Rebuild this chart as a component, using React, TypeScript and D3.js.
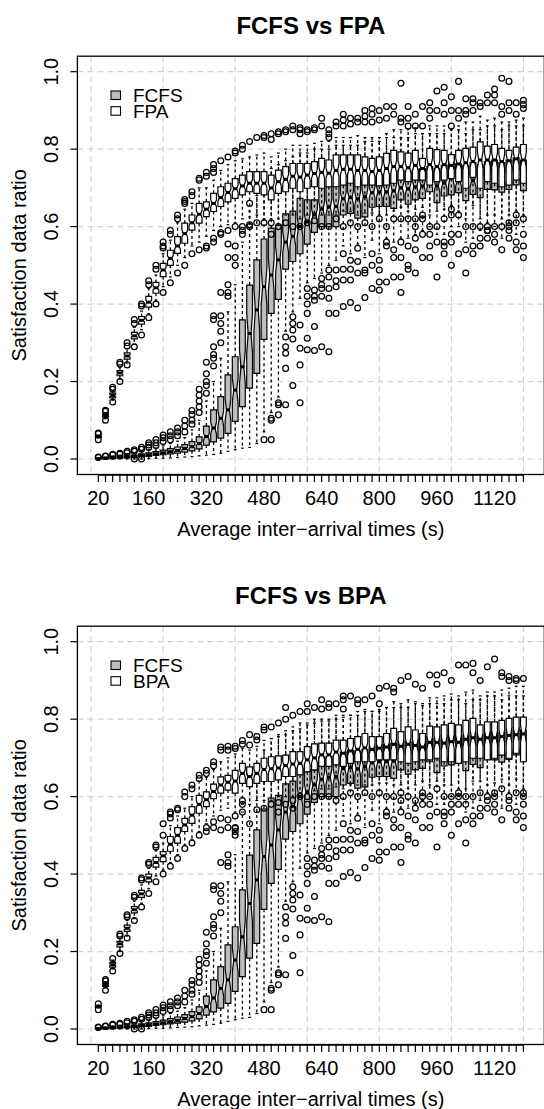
import React from 'react';
import * as d3 from 'd3';

// ---------- categories / ticks ----------
const categories = [20,40,60,80,100,120,140,160,180,200,220,240,260,280,300,320,340,360,380,400,
  420,440,460,480,500,520,540,560,580,600,620,640,660,680,700,720,740,760,780,800,
  820,840,860,880,900,920,940,960,980,1000,1020,1040,1060,1080,1100,1120,1140,1160,1180,1200];
const tickLabels = [20,160,320,480,640,800,960,1120];
const yTicks = [0,0.2,0.4,0.6,0.8,1.0];

// ---------- FCFS (same in both panels) ----------
const fcfsLo = [0.000,0.000,0.000,0.000,0.000,0.000,0.000,0.001,0.002,0.002,0.003,0.004,0.005,0.006,0.008,0.010,0.012,0.015,0.020,0.024,
  0.028,0.030,0.040,0.070,0.120,0.160,0.330,0.380,0.415,0.455,0.466,0.480,0.500,0.513,0.550,0.530,0.555,0.520,0.565,0.530,
  0.570,0.560,0.570,0.570,0.580,0.590,0.600,0.580,0.580,0.600,0.600,0.560,0.570,0.590,0.610,0.600,0.570,0.610,0.580,0.600];
const fcfsQ1 = [0.000,0.000,0.001,0.002,0.003,0.004,0.006,0.007,0.009,0.011,0.013,0.015,0.018,0.021,0.026,0.036,0.044,0.054,0.066,0.097,
  0.135,0.183,0.221,0.309,0.376,0.412,0.490,0.510,0.530,0.555,0.585,0.600,0.600,0.600,0.630,0.634,0.622,0.625,0.650,0.652,
  0.652,0.647,0.669,0.658,0.669,0.673,0.690,0.662,0.679,0.682,0.688,0.667,0.683,0.675,0.696,0.695,0.689,0.696,0.708,0.693];
const fcfsMed = [0.001,0.002,0.003,0.004,0.005,0.007,0.009,0.011,0.013,0.016,0.019,0.022,0.027,0.032,0.040,0.058,0.080,0.105,0.127,0.178,
  0.238,0.324,0.385,0.445,0.475,0.514,0.560,0.575,0.600,0.612,0.630,0.645,0.650,0.652,0.672,0.675,0.672,0.678,0.688,0.690,
  0.690,0.692,0.700,0.698,0.703,0.705,0.712,0.705,0.712,0.725,0.718,0.712,0.718,0.715,0.725,0.728,0.722,0.728,0.735,0.728];
const fcfsQ3 = [0.002,0.003,0.005,0.006,0.008,0.010,0.013,0.016,0.019,0.023,0.027,0.031,0.037,0.045,0.057,0.085,0.127,0.161,0.217,0.264,
  0.359,0.449,0.514,0.568,0.596,0.603,0.633,0.640,0.673,0.669,0.669,0.703,0.703,0.705,0.715,0.720,0.718,0.722,0.730,0.735,
  0.735,0.738,0.745,0.742,0.748,0.750,0.755,0.750,0.758,0.785,0.762,0.758,0.765,0.760,0.768,0.772,0.765,0.772,0.778,0.772];
const fcfsHi = [0.003,0.005,0.008,0.010,0.013,0.016,0.020,0.024,0.028,0.034,0.040,0.046,0.055,0.075,0.100,0.150,0.200,0.260,0.380,0.450,
  0.560,0.640,0.680,0.720,0.750,0.760,0.770,0.780,0.790,0.790,0.800,0.800,0.800,0.810,0.810,0.810,0.810,0.820,0.820,0.820,
  0.830,0.830,0.830,0.830,0.840,0.840,0.840,0.840,0.840,0.850,0.850,0.840,0.850,0.850,0.860,0.860,0.850,0.860,0.860,0.860];
const fcfsOut = [
  [0.004,0.005],[0.007,0.008],[0.010,0.012],[0.012,0.015],[0.016,0.020],
  [0.020,0.024,0.000],[0.025,0.030,0.000],[0.030,0.036,0.042],[0.035,0.042,0.050],[0.045,0.055,0.062],
  [0.050,0.060,0.070],[0.060,0.070,0.080],[0.070,0.085,0.100],[0.090,0.100,0.115,0.125],[0.120,0.135,0.150,0.165,0.180],
  [0.170,0.190,0.200,0.220,0.250],[0.240,0.260,0.270,0.290,0.360,0.370],[0.300,0.330,0.350,0.370,0.430],[0.420,0.430,0.450,0.520],[0.500,0.520,0.550],
  [0.580,0.590],[0.660],[],[0.050],[0.050,0.100,0.105],
  [0.114,0.140,0.145],[0.140,0.234,0.273,0.290,0.315],[0.190,0.310,0.333,0.350,0.367],[0.145,0.243,0.286,0.346],[0.282,0.312,0.376,0.400,0.420,0.440],
  [0.280,0.342,0.410,0.420,0.436],[0.290,0.420,0.440,0.450,0.466],[0.277,0.376,0.415,0.440,0.470,0.488],[0.376,0.445,0.460,0.488],[0.394,0.462,0.490,0.530],
  [0.404,0.462,0.490,0.513],[0.390,0.480,0.510,0.544],[0.417,0.480,0.488],[0.440,0.500,0.530],[0.436,0.457,0.488,0.513],
  [0.457,0.550,0.560],[0.470,0.520,0.540],[0.430,0.470,0.520,0.560],[0.490,0.500,0.550],[0.480,0.540,0.570],
  [0.520,0.580],[0.520,0.550,0.580],[0.470,0.560],[0.530,0.550,0.560],[0.500,0.560,0.580],
  [0.530,0.580],[0.480,0.540],[0.530,0.550],[0.550,0.570],[0.570,0.590],
  [0.560,0.580],[0.540],[0.570,0.590],[0.540,0.560],[0.520,0.550,0.580]
];

// ---------- FPA ----------
const fpaLo = [0.054,0.104,0.152,0.206,0.248,0.296,0.334,0.375,0.410,0.445,0.470,0.500,0.520,0.550,0.560,0.575,0.590,0.600,0.605,0.610,
  0.620,0.625,0.630,0.620,0.620,0.620,0.630,0.630,0.620,0.630,0.635,0.630,0.630,0.630,0.640,0.640,0.630,0.635,0.635,0.630,
  0.630,0.640,0.650,0.640,0.645,0.650,0.630,0.640,0.645,0.655,0.640,0.620,0.655,0.620,0.630,0.630,0.620,0.630,0.640,0.630];
const fpaQ1 = [0.056,0.108,0.158,0.215,0.258,0.310,0.348,0.392,0.428,0.471,0.500,0.531,0.557,0.591,0.609,0.626,0.639,0.652,0.664,0.673,
  0.682,0.690,0.686,0.682,0.669,0.686,0.690,0.699,0.690,0.699,0.703,0.699,0.703,0.703,0.707,0.712,0.703,0.707,0.707,0.705,
  0.707,0.712,0.720,0.716,0.720,0.720,0.707,0.716,0.720,0.724,0.716,0.699,0.727,0.699,0.716,0.712,0.703,0.707,0.720,0.712];
const fpaMed = [0.058,0.112,0.164,0.222,0.266,0.318,0.358,0.405,0.442,0.488,0.518,0.550,0.582,0.610,0.632,0.645,0.660,0.675,0.688,0.698,
  0.705,0.712,0.712,0.712,0.700,0.716,0.722,0.730,0.728,0.733,0.737,0.740,0.738,0.745,0.748,0.748,0.745,0.745,0.742,0.745,
  0.750,0.755,0.755,0.752,0.758,0.750,0.760,0.755,0.760,0.758,0.762,0.765,0.768,0.772,0.772,0.772,0.768,0.770,0.775,0.772];
const fpaQ3 = [0.060,0.116,0.170,0.228,0.274,0.327,0.368,0.420,0.456,0.505,0.539,0.574,0.609,0.630,0.660,0.664,0.686,0.703,0.712,0.724,
  0.733,0.742,0.742,0.742,0.733,0.746,0.755,0.763,0.763,0.763,0.768,0.776,0.772,0.785,0.785,0.785,0.785,0.780,0.776,0.780,
  0.789,0.797,0.793,0.790,0.797,0.776,0.802,0.799,0.797,0.786,0.797,0.802,0.805,0.819,0.808,0.812,0.802,0.797,0.805,0.812];
const fpaHi = [0.062,0.120,0.176,0.236,0.285,0.340,0.382,0.440,0.475,0.530,0.565,0.610,0.645,0.660,0.700,0.700,0.720,0.745,0.760,0.770,
  0.775,0.780,0.785,0.790,0.780,0.790,0.800,0.810,0.810,0.810,0.815,0.820,0.820,0.830,0.830,0.830,0.835,0.830,0.830,0.830,
  0.840,0.850,0.850,0.850,0.855,0.840,0.860,0.860,0.860,0.850,0.860,0.870,0.870,0.885,0.875,0.880,0.870,0.870,0.875,0.880];
const fpaOut = [
  [0.050,0.065,0.067],[0.100,0.123,0.126],[0.147,0.180,0.185],[0.200,0.245,0.250],[0.243,0.292,0.300],
  [0.290,0.350,0.360],[0.320,0.395,0.400],[0.365,0.450,0.460],[0.400,0.490,0.500],[0.430,0.545,0.550,0.560],
  [0.455,0.580,0.590],[0.480,0.620,0.630],[0.500,0.660,0.665,0.670],[0.530,0.680,0.690],[0.540,0.720,0.725],
  [0.545,0.550,0.730,0.740],[0.560,0.570,0.740,0.750,0.760],[0.580,0.585,0.770],[0.555,0.590,0.780],[0.600,0.790,0.795],
  [0.600,0.800,0.810],[0.600,0.605,0.820],[0.610,0.830],[0.610,0.830,0.835],[0.580,0.610,0.825,0.840],
  [0.600,0.840,0.845],[0.610,0.845,0.850],[0.600,0.850,0.860],[0.600,0.840,0.850,0.855],[0.610,0.845,0.850],
  [0.615,0.850,0.855],[0.600,0.860,0.880],[0.600,0.830,0.840,0.850],[0.620,0.860,0.870],[0.600,0.860,0.875,0.890],
  [0.610,0.865,0.880],[0.600,0.870,0.880],[0.610,0.870,0.885,0.900],[0.600,0.870,0.890,0.905],[0.620,0.875,0.900],
  [0.600,0.880,0.910],[0.620,0.890,0.910],[0.620,0.870,0.880,0.970],[0.620,0.860,0.880,0.910],[0.600,0.620,0.860,0.890],
  [0.620,0.630,0.860,0.910],[0.600,0.880,0.900,0.920],[0.600,0.900,0.950],[0.620,0.890,0.920,0.960],[0.630,0.645,0.860,0.900,0.935],
  [0.630,0.880,0.900,0.975],[0.600,0.890,0.900,0.930],[0.600,0.900,0.920,0.930],[0.600,0.910,0.920],[0.590,0.600,0.920,0.940],
  [0.600,0.920,0.940,0.955],[0.600,0.890,0.910,0.983],[0.600,0.610,0.900,0.920,0.975],[0.610,0.630,0.890,0.920],[0.620,0.905,0.915,0.926]
];

// ---------- BPA ----------
const bpaLo = [0.054,0.106,0.155,0.200,0.240,0.285,0.325,0.362,0.395,0.410,0.430,0.450,0.475,0.490,0.510,0.530,0.550,0.565,0.570,0.560,
  0.580,0.580,0.590,0.590,0.590,0.600,0.600,0.600,0.610,0.610,0.615,0.620,0.620,0.625,0.620,0.630,0.630,0.630,0.630,0.635,
  0.635,0.630,0.630,0.620,0.630,0.640,0.630,0.640,0.630,0.630,0.620,0.620,0.640,0.640,0.630,0.635,0.645,0.630,0.645,0.620];
const bpaQ1 = [0.056,0.110,0.160,0.212,0.252,0.300,0.340,0.380,0.418,0.432,0.459,0.480,0.510,0.531,0.557,0.574,0.595,0.609,0.617,0.609,
  0.634,0.626,0.634,0.639,0.639,0.643,0.652,0.652,0.656,0.664,0.669,0.678,0.678,0.682,0.678,0.686,0.690,0.690,0.690,0.695,
  0.695,0.695,0.690,0.686,0.690,0.695,0.695,0.699,0.690,0.690,0.686,0.690,0.699,0.699,0.695,0.699,0.707,0.699,0.712,0.690];
const bpaMed = [0.058,0.114,0.166,0.220,0.260,0.308,0.349,0.390,0.430,0.447,0.477,0.500,0.527,0.552,0.580,0.592,0.613,0.630,0.637,0.640,
  0.660,0.652,0.660,0.670,0.672,0.674,0.680,0.684,0.686,0.695,0.700,0.708,0.708,0.715,0.712,0.718,0.722,0.726,0.722,0.725,
  0.728,0.735,0.730,0.735,0.732,0.728,0.740,0.740,0.738,0.742,0.740,0.748,0.752,0.748,0.752,0.752,0.755,0.758,0.760,0.762];
const bpaQ3 = [0.060,0.118,0.172,0.226,0.268,0.316,0.358,0.400,0.443,0.458,0.497,0.520,0.544,0.574,0.603,0.612,0.632,0.651,0.655,0.668,
  0.686,0.677,0.686,0.699,0.703,0.705,0.707,0.716,0.716,0.729,0.736,0.738,0.738,0.746,0.746,0.750,0.755,0.763,0.755,0.755,
  0.763,0.776,0.768,0.780,0.772,0.763,0.782,0.780,0.785,0.789,0.785,0.797,0.802,0.785,0.793,0.793,0.797,0.802,0.805,0.805];
const bpaHi = [0.062,0.122,0.178,0.235,0.280,0.330,0.372,0.415,0.460,0.480,0.525,0.550,0.570,0.600,0.640,0.650,0.670,0.690,0.700,0.710,
  0.725,0.720,0.730,0.745,0.750,0.755,0.760,0.770,0.775,0.785,0.790,0.795,0.795,0.800,0.805,0.810,0.820,0.825,0.820,0.825,
  0.830,0.845,0.840,0.850,0.845,0.835,0.855,0.855,0.860,0.865,0.860,0.870,0.875,0.860,0.870,0.870,0.875,0.880,0.885,0.885];
const bpaOut = [
  [0.050,0.065],[0.100,0.124,0.128],[0.150,0.182],[0.195,0.240,0.245],[0.235,0.290,0.295],
  [0.280,0.340,0.345],[0.315,0.385,0.390],[0.350,0.425,0.430],[0.380,0.470,0.475],[0.400,0.500,0.530],
  [0.420,0.545,0.555,0.560],[0.440,0.566,0.570],[0.466,0.600,0.612],[0.480,0.620,0.630],[0.500,0.647,0.655],
  [0.510,0.520,0.660,0.668],[0.520,0.535,0.680,0.690],[0.514,0.544,0.720,0.728],[0.540,0.720,0.730],[0.510,0.518,0.724,0.730],
  [0.560,0.735,0.745],[0.530,0.733,0.760],[0.566,0.746,0.755],[0.570,0.772,0.780],[0.580,0.780],
  [0.560,0.585,0.790],[0.580,0.800,0.830],[0.570,0.590,0.810],[0.600,0.820],[0.580,0.600,0.820,0.840],
  [0.600,0.830],[0.600,0.826,0.850],[0.600,0.830,0.840],[0.590,0.840],[0.600,0.826,0.850,0.860],
  [0.610,0.860],[0.600,0.840,0.850],[0.610,0.850],[0.600,0.860],[0.610,0.840,0.880],
  [0.600,0.885],[0.600,0.870,0.880],[0.590,0.610,0.900],[0.600,0.910],[0.590,0.890],
  [0.600,0.610,0.880],[0.600,0.914],[0.620,0.890,0.914],[0.600,0.920],[0.600,0.900],
  [0.600,0.610,0.940],[0.580,0.600,0.940],[0.600,0.920,0.944],[0.610,0.900],[0.600,0.935],
  [0.600,0.610,0.955],[0.620,0.910,0.920],[0.600,0.900,0.910],[0.610,0.900,0.905],[0.600,0.610,0.905]
];

const FONT = "'Liberation Sans', Arial, Helvetica, sans-serif";
const W = 544, H = 1109;
const GRAY = '#bebebe';

type Stats = { lo: number[]; q1: number[]; med: number[]; q3: number[]; hi: number[]; out: number[][] };

function BoxSeries({ x, y, s, fill }: { x: any; y: any; s: Stats; fill: string }) {
  const hw = x(1.4) - x(1);
  const sw = hw * 0.5;
  const k = 1.58 / Math.sqrt(70);
  return (
    <g>
      {categories.map((c, i) => {
        const cx = x(i + 1);
        const iqr = s.q3[i] - s.q1[i];
        const n1 = s.med[i] - k * iqr, n2 = s.med[i] + k * iqr;
        const pts: [number, number][] = [
          [cx - hw, y(s.q1[i])], [cx - hw, y(n1)], [cx - hw / 2, y(s.med[i])], [cx - hw, y(n2)], [cx - hw, y(s.q3[i])],
          [cx + hw, y(s.q3[i])], [cx + hw, y(n2)], [cx + hw / 2, y(s.med[i])], [cx + hw, y(n1)], [cx + hw, y(s.q1[i])],
        ];
        return (
          <g key={c}>
            <polygon points={pts.map(p => p.join(',')).join(' ')} fill={fill} stroke="#000" strokeWidth={1.2} />
            <line x1={cx - hw / 2 - 0.6} x2={cx + hw / 2 + 0.6} y1={y(s.med[i])} y2={y(s.med[i])} stroke="#000" strokeWidth={3} />
            <line x1={cx} x2={cx} y1={y(s.q1[i])} y2={y(s.lo[i])} stroke="#000" strokeWidth={1.3} strokeDasharray="3,3" />
            <line x1={cx} x2={cx} y1={y(s.q3[i])} y2={y(s.hi[i])} stroke="#000" strokeWidth={1.3} strokeDasharray="3,3" />
            <line x1={cx - sw} x2={cx + sw} y1={y(s.lo[i])} y2={y(s.lo[i])} stroke="#000" strokeWidth={1.2} />
            <line x1={cx - sw} x2={cx + sw} y1={y(s.hi[i])} y2={y(s.hi[i])} stroke="#000" strokeWidth={1.2} />
            {s.out[i].map((v, j) => (
              <circle key={j} cx={cx} cy={y(v)} r={2.9} fill="none" stroke="#000" strokeWidth={1.25} />
            ))}
          </g>
        );
      })}
    </g>
  );
}

function Panel({ dy, title, name, other }: { dy: number; title: string; name: string; other: Stats }) {
  const left = 77.4, right = 544.3, top = 56.2 + dy, bottom = 474.5 + dy;
  const x = d3.scaleLinear().domain([-1.9, 62.9]).range([left, right]);
  const y = d3.scaleLinear().domain([-0.04, 1.04]).range([bottom, top]);
  const cxm = (left + right) / 2;
  const fcfs: Stats = { lo: fcfsLo, q1: fcfsQ1, med: fcfsMed, q3: fcfsQ3, hi: fcfsHi, out: fcfsOut };
  const gridX = [0, 10, 20, 30, 40, 50, 60];
  return (
    <g fontFamily={FONT}>
      <text x={cxm} y={34 + dy} textAnchor="middle" fontWeight="bold" fontSize={24}>{title}</text>
      {yTicks.map(v => (
        <line key={'gy' + v} x1={left} x2={right} y1={y(v)} y2={y(v)} stroke="#d3d3d3" strokeWidth={1.2} strokeDasharray="6,4" />
      ))}
      {gridX.map(v => (
        <line key={'gx' + v} x1={x(v)} x2={x(v)} y1={top} y2={bottom} stroke="#d3d3d3" strokeWidth={1.2} strokeDasharray="6,4" />
      ))}
      <BoxSeries x={x} y={y} s={fcfs} fill={GRAY} />
      <BoxSeries x={x} y={y} s={other} fill="#ffffff" />
      <rect x={left} y={top} width={right - left} height={bottom - top} fill="none" stroke="#000" strokeWidth={1.3} />
      {yTicks.map(v => (
        <g key={'yt' + v}>
          <line x1={left - 7} x2={left} y1={y(v)} y2={y(v)} stroke="#000" strokeWidth={1.2} />
          <text transform={`translate(58,${y(v)}) rotate(-90)`} textAnchor="middle" fontSize={20}>{v.toFixed(1)}</text>
        </g>
      ))}
      <line x1={x(1)} x2={x(60)} y1={bottom + 0.6} y2={bottom + 0.6} stroke="#000" strokeWidth={1.2} />
      {categories.map((c, i) => (
        <line key={'xt' + c} x1={x(i + 1)} x2={x(i + 1)} y1={bottom} y2={bottom + 7.5} stroke="#000" strokeWidth={1.2} />
      ))}
      {tickLabels.map(t => (
        <text key={'xl' + t} x={x(categories.indexOf(t) + 1)} y={505 + dy} textAnchor="middle" fontSize={20}>{t}</text>
      ))}
      <text x={cxm} y={536 + dy} textAnchor="middle" fontSize={20}>Average inter−arrival times (s)</text>
      <text transform={`translate(26,${(top + bottom) / 2}) rotate(-90)`} textAnchor="middle" fontSize={20}>Satisfaction data ratio</text>
      <rect x={111} y={91 + dy} width={9.5} height={8.5} fill={GRAY} stroke="#000" strokeWidth={1.1} />
      <rect x={111} y={106.7 + dy} width={9.5} height={8.5} fill="#fff" stroke="#000" strokeWidth={1.1} />
      <text x={133} y={102.4 + dy} fontSize={19}>FCFS</text>
      <text x={133} y={118.3 + dy} fontSize={19}>{name}</text>
    </g>
  );
}

export default function App() {
  const fpa: Stats = { lo: fpaLo, q1: fpaQ1, med: fpaMed, q3: fpaQ3, hi: fpaHi, out: fpaOut };
  const bpa: Stats = { lo: bpaLo, q1: bpaQ1, med: bpaMed, q3: bpaQ3, hi: bpaHi, out: bpaOut };
  return (
    <svg width={W} height={H} viewBox={`0 0 ${W} ${H}`} style={{ position: 'absolute', left: 0, top: 0, display: 'block', background: '#fff' }}>
      <rect x={0} y={0} width={W} height={H} fill="#fff" />
      <Panel dy={0} title="FCFS vs FPA" name="FPA" other={fpa} />
      <Panel dy={570} title="FCFS vs BPA" name="BPA" other={bpa} />
    </svg>
  );
}
